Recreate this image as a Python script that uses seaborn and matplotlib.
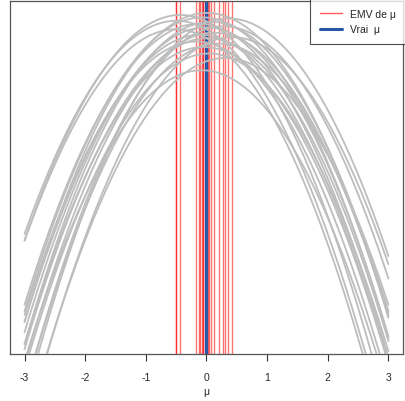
import numpy as np
import pandas as pd
import matplotlib
matplotlib.use("Agg")
import matplotlib.pyplot as plt
import seaborn as sns
from matplotlib.lines import Line2D

# Data: maximum likelihood estimates of mu (one per sample) and peak log-likelihoods
mle = [-0.51, -0.50, -0.43, -0.17, -0.13, -0.10, -0.08, -0.065, -0.05, -0.01,
       0.01, 0.02, 0.045, 0.075, 0.12, 0.20, 0.28, 0.31, 0.36, 0.42]
peak = [-28.8, -26.3, -24.6, -32.4, -27.2, -30.4, -40.8, -25.3, -34.0, -28.2,
        -24.0, -31.4, -35.9, -26.6, -29.8, -33.0, -27.9, -37.2, -25.6, -31.1]
n_obs = 20
true_mu = 0.0
xticks = [-3, -2, -1, 0, 1, 2, 3]

mu_grid = np.linspace(-3, 3, 301)
rows = []
for i, (m, p) in enumerate(zip(mle, peak)):
    ll = p - n_obs / 2 * (mu_grid - m) ** 2
    rows.append(pd.DataFrame({"mu": mu_grid, "ll": ll, "s": i}))
df = pd.concat(rows, ignore_index=True)

sns.set_style("white")
plt.rcParams["font.family"] = ["Liberation Sans", "DejaVu Sans"]

fig = plt.figure(figsize=(4.06, 4.02), dpi=100)
ax = fig.add_axes([10 / 406, 1 - 355 / 402, 393 / 406, 353 / 402])

for m in mle:
    ax.axvline(m, color=(1, 0, 0, 0.55), lw=1.0, zorder=1)
ax.axvline(true_mu, color="#2a56a6", lw=2.4, zorder=2)

sns.lineplot(data=df, x="mu", y="ll", units="s", estimator=None,
             color="#bdbdbd", lw=1.3, ax=ax, legend=False, zorder=3)

ax.set_xlim(-3.24, 3.24)
ax.set_ylim(-124.0, -20.5)
ax.set_yticks([])
ax.set_xticks(xticks)
ax.set_xticklabels([str(t) for t in xticks])
ax.tick_params(axis="x", direction="out", length=5, width=0.8, color="#333333",
               labelsize=7.5, pad=8, bottom=True)
ax.set_xlabel("μ", fontsize=7.5, labelpad=3)
ax.set_ylabel("")
for s in ax.spines.values():
    s.set_color("#555555")
    s.set_linewidth(0.9)

handles = [Line2D([], [], color=(1, 0.35, 0.35), lw=1.0),
           Line2D([], [], color="#2a56a6", lw=2.2)]
leg = ax.legend(handles, ["EMV de μ", "Vrai  μ"], loc="upper right",
                fontsize=7.5, frameon=True, fancybox=False, borderaxespad=0,
                handlelength=2.2, handletextpad=0.7, borderpad=0.9,
                labelspacing=0.55, bbox_to_anchor=(1.005, 1.005))
leg.get_frame().set_edgecolor("#222222")
leg.get_frame().set_linewidth(0.8)

fig.savefig("out.png", dpi=100)
